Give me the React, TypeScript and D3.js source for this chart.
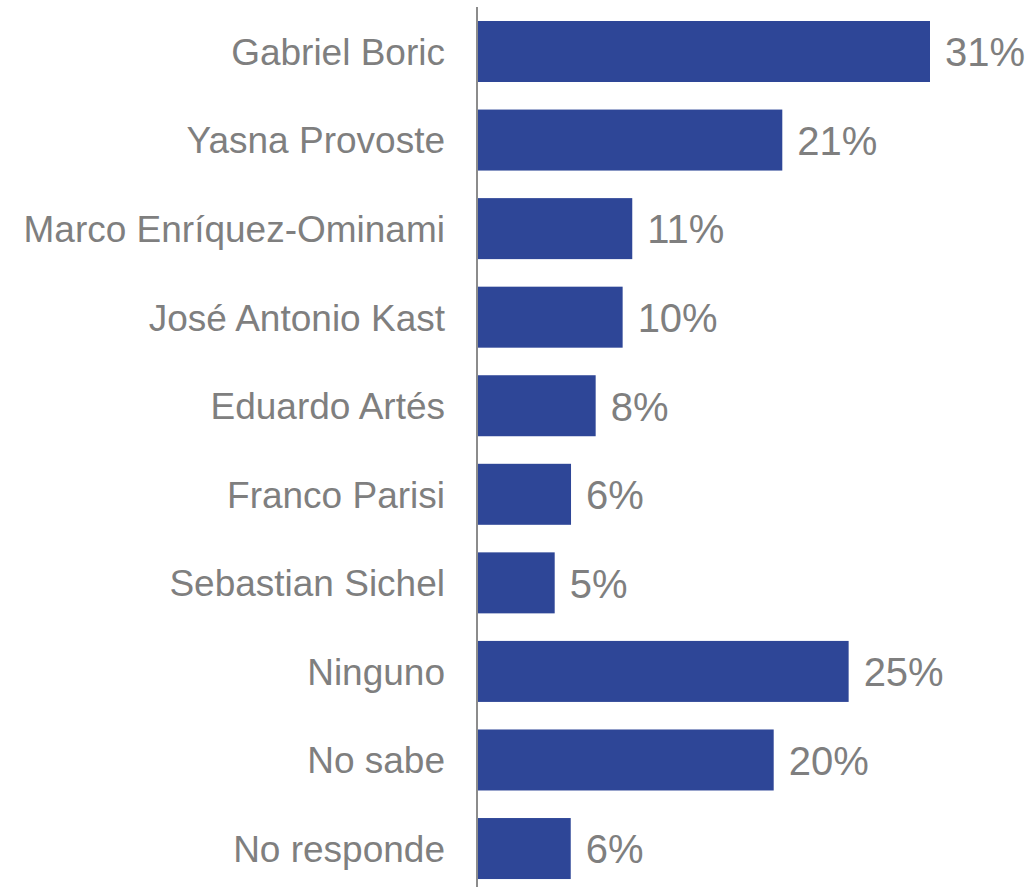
import React from "react";
import * as d3 from "d3";

const categories: string[] = [
  "Gabriel Boric",
  "Yasna Provoste",
  "Marco Enríquez-Ominami",
  "José Antonio Kast",
  "Eduardo Artés",
  "Franco Parisi",
  "Sebastian Sichel",
  "Ninguno",
  "No sabe",
  "No responde",
];

const values: number[] = [31.0, 20.87, 10.58, 9.92, 8.07, 6.38, 5.26, 25.42, 20.28, 6.36];

const W = 1035;
const H = 887;
const margin = { left: 478, right: 105, top: 21, bottom: 7 };
const BAR_COLOR = "#2E4697";
const TEXT_COLOR = "#7F7F7F";
const AXIS_COLOR = "#8C8C8C";
const FONT = "'Liberation Sans', Arial, sans-serif";

export default function App() {
  const x = d3
    .scaleLinear()
    .domain([0, d3.max(values) as number])
    .range([margin.left, 930]);

  const step = 88.56;
  const barH = 61;
  const y = d3
    .scaleBand<string>()
    .domain(categories)
    .range([margin.top - (step - barH) / 2, margin.top - (step - barH) / 2 + step * categories.length])
    .paddingInner((step - barH) / step)
    .paddingOuter((step - barH) / step / 2);

  return (
    <svg
      width={W}
      height={H}
      style={{ position: "absolute", left: 0, top: 0, background: "#fff" }}
      fontFamily={FONT}
    >
      <rect x={0} y={0} width={W} height={H} fill="#ffffff" />
      {categories.map((c, i) => {
        const yy = y(c) as number;
        const bh = y.bandwidth();
        const cy = yy + bh / 2;
        return (
          <g key={c}>
            <rect x={x(0)} y={yy} width={x(values[i]) - x(0)} height={bh} fill={BAR_COLOR} />
            <text
              x={445}
              y={cy + 0.36 * 37}
              textAnchor="end"
              fontSize={37}
              fill={TEXT_COLOR}
            >
              {c}
            </text>
            <text
              x={x(values[i]) + 15}
              y={cy + 0.37 * 40}
              textAnchor="start"
              fontSize={40}
              fill={TEXT_COLOR}
            >
              {`${Math.round(values[i])}%`}
            </text>
          </g>
        );
      })}
      <line x1={477} x2={477} y1={7} y2={H} stroke={AXIS_COLOR} strokeWidth={2} />
    </svg>
  );
}
